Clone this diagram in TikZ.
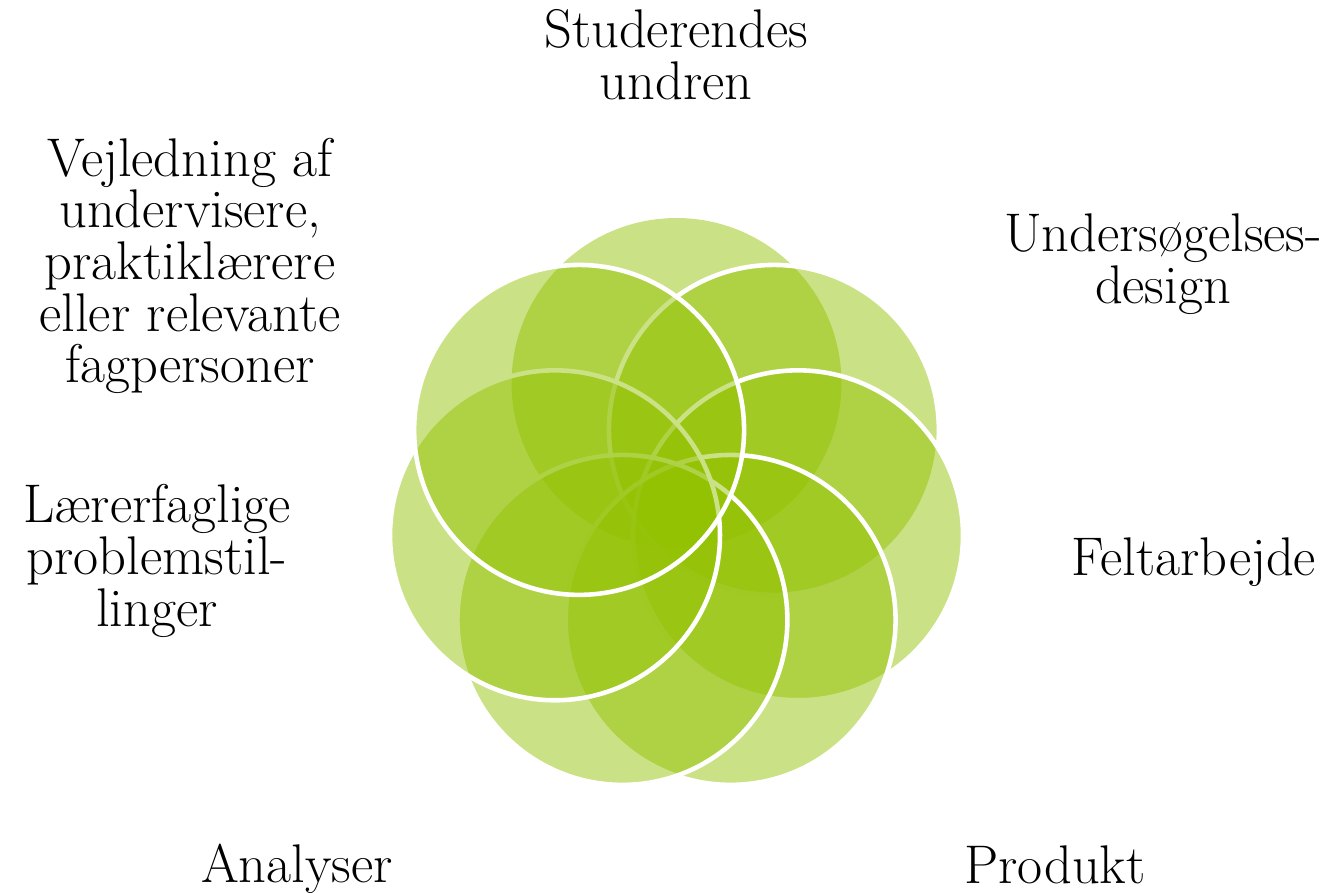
\documentclass[tikz,border=0pt]{standalone}
\usepackage{fontspec}
\definecolor{petalgreen}{RGB}{146,193,0}

\begin{document}
\begin{tikzpicture}[x=0.02cm, y=-0.02cm]
    \useasboundingbox (0,0) rectangle (1334,892);
    \tikzset{Petal/.style={circle, minimum size=6.6cm, inner sep=0pt,
        fill=petalgreen, fill opacity=0.48, draw=white, line width=2.6pt}}
    \tikzset{Label/.style={align=center, font=\fontsize{31}{29.4}\selectfont}}

    % petals, clockwise from the top
    \node[Petal, draw=none] (U) at (676.5,383.0) {};
    \node[Petal] (D) at (773.9,429.9) {};
    \node[Petal] (F) at (798.0,535.3) {};
    \node[Petal] (P) at (730.6,619.9) {};
    \node[Petal] (A) at (622.4,619.9) {};
    \node[Petal] (L) at (555.0,535.3) {};
    \node[Petal] (V) at (579.1,429.9) {};

    % labels
    \node[Label] (Stud) at (676,55) {Studerendes\\undren};
    \node[Label] (Unders) at (1163,264) {Undersøgelses-\\design};
    \node[Label] (Felt) at (1194,562) {Feltarbejde};
    \node[Label] (Prod) at (1055,865) {Produkt};
    \node[Label] (Anal) at (297,869) {Analyser};
    \node[Label] (Laer) at (157,561) {Lærerfaglige\\problemstil-\\linger};
    \node[Label] (Vejl) at (190,266) {Vejledning af\\undervisere,\\praktiklærere\\eller relevante\\fagpersoner};
\end{tikzpicture}
\end{document}
